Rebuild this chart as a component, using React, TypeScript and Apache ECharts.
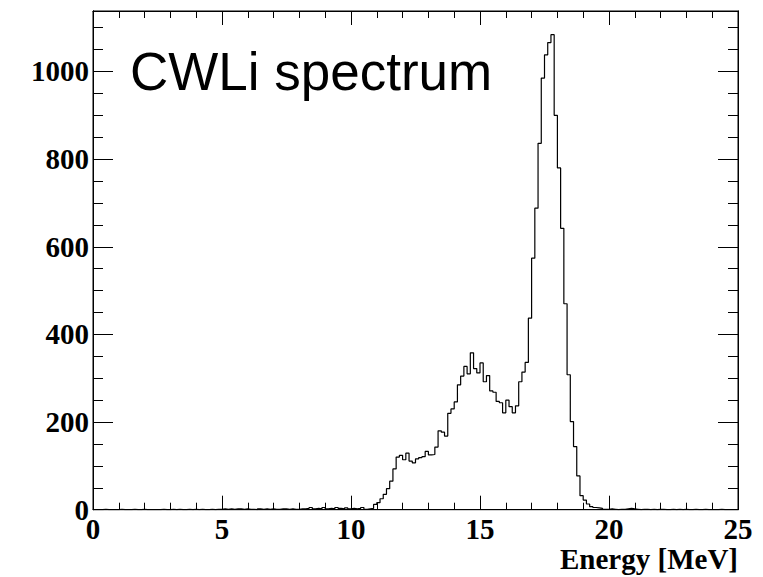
import React, { useEffect, useRef } from "react";
import * as echarts from "echarts";

// Histogram: 200 bins of 0.125 MeV from 0 to 25 MeV
const binWidth = 0.125;
const xMin = 0;
const xMax = 25;
const yMin = 0;
const yMax = 1138;
const xMajorInterval = 5;
const yMajorInterval = 200;
const yMinorInterval = 50;

const counts: number[] = [
  // 0.0 - 2.375
  0, 0, 0, 1, 0, 0, 0, 0, 1, 0, 0, 0, 1, 0, 0, 1, 0, 0, 0, 0,
  // 2.5 - 4.875
  0, 1, 0, 0, 1, 0, 1, 0, 0, 1, 0, 1, 0, 1, 0, 0, 1, 0, 1, 1,
  // 5.0 - 7.375
  2, 1, 2, 1, 2, 2, 1, 2, 1, 1, 0, 2, 1, 2, 1, 2, 1, 1, 2, 2,
  // 7.5 - 9.875
  1, 2, 1, 1, 2, 2, 3, 5, 2, 3, 2, 5, 2, 3, 2, 5, 3, 2, 4, 2,
  // 10.0 - 12.375
  3, 2, 3, 5, 1, 2, 3, 12, 16, 25, 35, 48, 65, 93, 120, 124, 114, 129, 111, 107,
  // 12.5 - 14.875
  116, 119, 121, 133, 125, 126, 143, 180, 177, 168, 220, 230, 246, 285, 305, 327, 310, 358, 322, 312,
  // 15.0 - 17.375
  335, 292, 306, 271, 268, 247, 244, 221, 250, 235, 221, 237, 292, 314, 336, 437, 574, 688, 836, 985,
  // 17.5 - 19.875
  1038, 1066, 1084, 900, 780, 642, 470, 308, 201, 144, 77, 32, 22, 13, 7, 5, 4, 3, 1, 1,
  // 20.0 - 22.375
  2, 1, 0, 1, 1, 2, 3, 2, 1, 0, 1, 1, 0, 1, 0, 1, 1, 0, 0, 1,
  // 22.5 - 24.875
  0, 1, 0, 1, 0, 0, 1, 0, 0, 1, 0, 0, 0, 0, 1, 0, 0, 0, 0, 0,
];

const titleText = "CWLi spectrum";
const xAxisTitle = "Energy [MeV]";

const serif = "'Liberation Serif', 'Times New Roman', serif";
const sans = "'Liberation Sans', Arial, Helvetica, sans-serif";

export default function App() {
  const ref = useRef<HTMLDivElement>(null);

  useEffect(() => {
    if (!ref.current) return;
    const chart = echarts.init(ref.current, undefined, { renderer: "svg" });

    const data: number[][] = counts.map((c, i) => [xMin + i * binWidth, c]);
    data.push([xMin + counts.length * binWidth, counts[counts.length - 1]]);

    const labelStyle = {
      fontFamily: serif,
      fontWeight: "bold" as const,
      fontSize: 29,
      color: "#000",
    };

    const xAxisBase = (position: "bottom" | "top", showLabels: boolean) => ({
      type: "value" as const,
      position,
      min: xMin,
      max: xMax,
      interval: xMajorInterval,
      axisLine: { show: true, onZero: false, lineStyle: { color: "#000", width: 1 } },
      axisTick: { show: true, inside: true, length: 14, lineStyle: { color: "#000", width: 1 } },
      minorTick: { show: true, splitNumber: 5, length: 7, lineStyle: { color: "#000", width: 1 } },
      splitLine: { show: false },
      minorSplitLine: { show: false },
      axisLabel: showLabels
        ? { show: true, margin: 5, ...labelStyle }
        : { show: false },
    });

    const yAxisBase = (
      position: "left" | "right",
      interval: number,
      tickLen: number,
      showLabels: boolean
    ) => ({
      type: "value" as const,
      position,
      min: yMin,
      max: yMax,
      interval,
      axisLine: { show: true, onZero: false, lineStyle: { color: "#000", width: 1 } },
      axisTick: { show: true, inside: true, length: tickLen, lineStyle: { color: "#000", width: 1 } },
      splitLine: { show: false },
      axisLabel: showLabels
        ? {
            show: true,
            margin: 4,
            ...labelStyle,
            formatter: (v: number) => (v % yMajorInterval === 0 ? String(v) : ""),
          }
        : { show: false },
    });

    chart.setOption({
      animation: false,
      backgroundColor: "#fff",
      grid: {
        left: 93,
        top: 11,
        width: 645,
        height: 498.7,
        show: true,
        borderColor: "#000",
        borderWidth: 1,
        backgroundColor: "transparent",
      },
      xAxis: [xAxisBase("bottom", true), xAxisBase("top", false)],
      yAxis: [
        yAxisBase("left", yMajorInterval, 20, true),
        yAxisBase("left", yMinorInterval, 10, false),
        yAxisBase("right", yMajorInterval, 20, false),
        yAxisBase("right", yMinorInterval, 10, false),
      ],
      series: [
        {
          type: "line",
          xAxisIndex: 0,
          yAxisIndex: 0,
          data,
          step: "end",
          showSymbol: false,
          symbol: "none",
          lineStyle: { color: "#000", width: 1.2 },
          clip: true,
        },
      ],
      graphic: [
        {
          type: "text",
          x: 130,
          y: 71,
          style: {
            text: titleText,
            fill: "#000",
            fontFamily: sans,
            fontSize: 53,
            fontWeight: "normal",
            align: "left",
            verticalAlign: "middle",
          },
        },
        {
          type: "text",
          x: 738,
          y: 559,
          style: {
            text: xAxisTitle,
            fill: "#000",
            fontFamily: serif,
            fontSize: 29,
            fontWeight: "bold",
            align: "right",
            verticalAlign: "middle",
          },
        },
      ],
    });

    return () => {
      chart.dispose();
    };
  }, []);

  return (
    <div
      ref={ref}
      style={{ position: "absolute", left: 0, top: 0, width: 763, height: 577, background: "#fff" }}
    />
  );
}
